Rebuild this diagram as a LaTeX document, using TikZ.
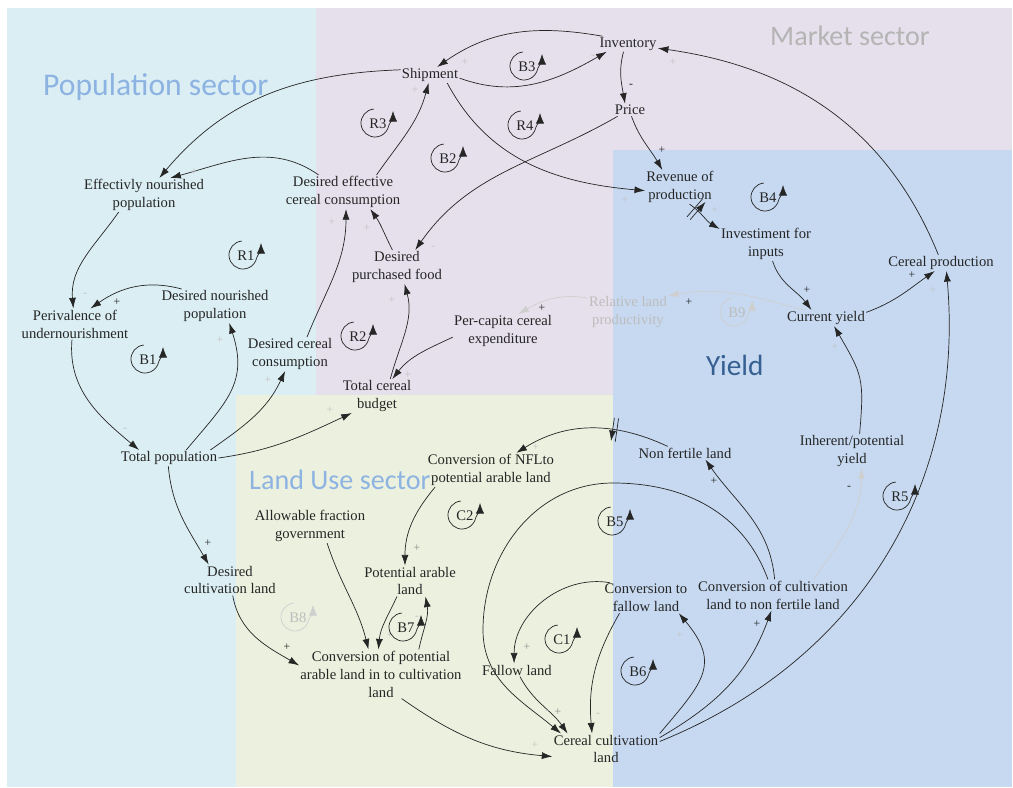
\documentclass[tikz,border=0pt]{standalone}
\usepackage{fontspec}
\setmainfont{Liberation Serif}
\newfontfamily\titlefont{Carlito}
\usetikzlibrary{arrows.meta,decorations.markings}
\definecolor{popbg}{HTML}{DAEEF3}
\definecolor{mktbg}{HTML}{E5E0EC}
\definecolor{landbg}{HTML}{EBF1DE}
\definecolor{yieldbg}{HTML}{C6D9F1}
\definecolor{ttlblue}{HTML}{8DB3E2}
\definecolor{ttlgray}{HTML}{B4B4B4}
\definecolor{ttldark}{HTML}{376092}
\definecolor{ink}{HTML}{262626}
\definecolor{midgray}{HTML}{8C8C8C}
\definecolor{faint}{HTML}{C4C4C4}
\definecolor{grayline}{HTML}{CFCFCF}
\definecolor{graytext}{HTML}{BDBDBD}
\begin{document}
\begin{tikzpicture}[x=0.03cm,y=0.03cm,
  var/.style={align=center, inner sep=1pt, text=ink, font=\fontsize{12.5}{15.3}\selectfont},
  cl/.style={draw=ink, line width=0.6pt, -{Latex[length=9pt,width=6pt]}},
  gcl/.style={draw=grayline, line width=0.6pt, -{Latex[length=9pt,width=6pt]}},
  pol/.style={inner sep=0pt, text=ink, font=\fontsize{10}{10}\selectfont},
  loopl/.style={inner sep=0pt, text=ink, font=\fontsize{12.5}{14}\selectfont},
  title/.style={anchor=base west, inner sep=0pt},
  delay/.style={postaction={decorate, decoration={markings, mark=at position #1 with {\draw[ink, line width=0.6pt] (-1.8pt,-10pt)--(-1.8pt,10pt) (1.8pt,-10pt)--(1.8pt,10pt);}}}},
  cld/.pic={\draw[ink, line width=0.6pt, -{Latex[length=9pt,width=7pt]}] (-3,1) ++(95:14) arc (95:335:14) to[out=75,in=-90] (15,13);},
  cldg/.pic={\draw[grayline, line width=0.6pt, -{Latex[length=9pt,width=7pt]}] (-3,1) ++(95:14) arc (95:335:14) to[out=75,in=-90] (15,13);}
]
\useasboundingbox (0,0) rectangle (1013,-787);
\fill[white] (0,0) rectangle (1013,-787);
\fill[popbg] (7,-8) rectangle (316,-787);
\fill[mktbg] (316,-8) rectangle (1012,-395);
\fill[landbg] (236,-395) rectangle (613,-787);
\fill[yieldbg] (613,-150) rectangle (1012,-787);

% sector titles
\node[title, text=ttlblue, font=\titlefont\fontsize{27}{30}\selectfont] (tpop) at (43,-95) {Population sector};
\node[title, text=ttlgray, font=\titlefont\fontsize{24}{28}\selectfont] (tmkt) at (770,-45) {Market sector};
\node[title, text=ttlblue, font=\titlefont\fontsize{24}{28}\selectfont] (tland) at (249,-489) {Land Use sector};
\node[title, text=ttldark, font=\titlefont\fontsize{25}{28}\selectfont] (tyld) at (706,-375) {Yield};

% variables
\node[var] (ship) at (430,-75) {Shipment};
\node[var] (inv) at (628,-44) {Inventory};
\node[var] (price) at (630,-110) {Price};
\node[var] (enp) at (144,-195) {Effectivly nourished\\population};
\node[var] (decc) at (343,-192) {Desired effective\\cereal consumption};
\node[var] (rev) at (680,-187) {Revenue of\\production};
\node[var] (iinp) at (766,-244) {Investiment for\\inputs};
\node[var] (cprod) at (941,-263) {Cereal production};
\node[var] (dpf) at (397,-267) {Desired\\purchased food};
\node[var] (pu) at (75,-324) {Perivalence of\\undernourishment};
\node[var] (dnp) at (215,-306) {Desired nourished\\population};
\node[var] (dcc) at (290,-354) {Desired cereal\\consumption};
\node[var] (pcce) at (503,-331) {Per-capita cereal\\expenditure};
\node[var, text=graytext] (rlp) at (628,-312) {Relative land\\productivity};
\node[var] (cy) at (826,-318) {Current yield};
\node[var] (tcb) at (377,-396) {Total cereal\\budget};
\node[var] (tp) at (169,-458) {Total population};
\node[var] (nflc) at (491,-470) {Conversion of NFLto\\potential arable land};
\node[var] (nfl) at (685,-453) {Non fertile land};
\node[var] (ipy) at (852,-451) {Inherent/potential\\yield};
\node[var] (afg) at (310,-526) {Allowable fraction\\government};
\node[var] (dcl) at (230,-580) {Desired\\cultivation land};
\node[var] (pal) at (410,-581) {Potential arable\\land};
\node[var] (cfl) at (646,-598) {Conversion to\\fallow land};
\node[var] (ccnf) at (773,-595) {Conversion of cultivation\\land to non fertile land};
\node[var] (cpal) at (381,-674) {Conversion of potential\\arable land in to cultivation\\land};
\node[var] (fal) at (517,-670) {Fallow land};
\node[var] (ccl) at (606,-749) {Cereal cultivation\\land};

% market links
\draw[cl] (ship.170) to[out=182,in=50] (enp.48);
\draw[cl] (decc.145) to[out=145,in=15] (enp.33);
\draw[cl] (ship.-6) to[out=-20,in=210] (inv.200);
\draw[cl] (inv.163) to[out=170,in=35] (ship.48);
\draw[cl] (inv.240) to[out=255,in=100] (price.128);
\draw[cl] (ship.-25) to[out=-62,in=175] (rev.186);
\draw[cl] (price.-77) to[out=-70,in=120] (rev.136);
\draw[cl] (price.207) to[out=210,in=55] (dpf.43);
\draw[cl] (decc.27) to[out=55,in=255] (ship.-100);
\draw[cl] (dpf.105) to[out=117,in=-55] (decc.-32);
\draw[cl] (dcc.45) to[out=68,in=-90] (decc.-80);
\draw[cl] (tcb.52) to[out=75,in=-75] (dpf.-66);
\draw[cl] (pcce.187) to[out=205,in=52] (tcb.48);
\draw[cl] (tp.east) to[out=8,in=205] (tcb.214);
% population links
\draw[cl] (tp.11) to[out=35,in=245] (dcc.254);
\draw[cl] (tp.25) to[out=50,in=-72,looseness=1.2] (dnp.-50);
\draw[cl] (pu.259) to[out=-95,in=140] (tp.165);
\draw[cl] (dnp.153) to[out=165,in=35] (pu.45);
\draw[cl] (enp.214) to[out=235,in=95] (pu.96);
\draw[cl] (tp.265) to[out=-85,in=120] (dcl.144);
% land use links
\draw[cl] (dcl.-80) to[out=-80,in=150] (cpal.174);
\draw[cl] (afg.-45) to[out=-72,in=104] (cpal.117);
\draw[cl] (pal.230) to[out=245,in=85] (cpal.96);
\draw[cl] (cpal.33) to[out=78,in=-80] (pal.-45);
\draw[cl] (nflc.197) to[out=230,in=90] (pal.108);
\draw[cl, delay=0.35] (nfl.159) to[out=155,in=32] (nflc.34);
\draw[cl] (ccnf.84) to[out=95,in=-55] (nfl.-18);
\draw[cl] (ccnf.108) to[out=110,in=0] (613,-483) to[out=180,in=90] (483,-630) to[out=-90,in=140] (ccl.161);
\draw[cl] (cfl.157) to[out=170,in=90] (fal.114);
\draw[cl] (fal.294) to[out=-62,in=125] (ccl.158);
\draw[cl] (cfl.210) to[out=240,in=95] (ccl.132);
\draw[cl] (cpal.-50) to[out=-35,in=175] (ccl.188);
\draw[cl] (ccl.16) to[out=50,in=-50,looseness=1.4] (cfl.-25);
\draw[cl] (ccl.12) to[out=30,in=250] (ccnf.264);
% yield links
\draw[cl] (ccl.8) to[out=22,in=-85] (cprod.-56);
\draw[cl] (cprod.108) to[out=112,in=-8] (inv.-8);
\draw[cl] (cy.8) to[out=20,in=215] (cprod.232);
\draw[cl] (iinp.-69) to[out=-72,in=127] (cy.151);
\draw[cl, delay=0.22] (rev.-61) to[out=-35,in=150] (iinp.162);
\draw[cl] (ipy.66) to[out=85,in=-60,looseness=1.3] (cy.-45);
\draw[gcl] (ccnf.21) to[out=55,in=-90] (ipy.-61);
\draw[gcl] (cy.160) to[out=165,in=10] (rlp.22);
\draw[gcl] (rlp.161) to[out=170,in=30] (pcce.48);

% polarity signs
\foreach \n/\x/\y/\t in {1/631/86/-,2/662/150/+,3/117/302/+,4/208/543/+,5/287/647/+,6/714/481/+,7/757/624/+,8/912/275/+,9/807/290/+,10/849/488/-,11/689/302/+,12/542/308/+}
  \node[pol] (s\n) at (\x,-\y) {\t};
\foreach \n/\x/\y/\t in {13/417/548/+,14/527/647/+,15/558/712/+}
  \node[pol, text=midgray] (s\n) at (\x,-\y) {\t};
\foreach \n/\x/\y/\t in {16/415/90/+,17/465/62/+,18/593/57/-,19/673/62/+,20/433/248/-,21/625/200/+,22/715/210/+,23/194/172/+,24/332/222/+,25/367/228/+,26/392/300/+,27/408/375/+,28/220/340/+,29/268/380/+,30/330/410/+,31/125/430/-,32/85/295/-,33/835/347/+,34/933/290/+,35/535/745/+,36/547/712/-,37/598/715/-,38/680/635/+,39/417/618/-,40/390/635/+,41/536/447/+}
  \node[pol, text=faint] (s\n) at (\x,-\y) {\t};

% loop markers
\foreach \n/\x/\y in {R3/378/124,B3/527/67,R4/525/126,B2/448/159,B4/768/198,R1/246/256,B1/148/360,R2/358/337,C2/465/516,B5/615/522,B7/406/628,C1/562/640,B6/638/672,R5/900/497}
{ \node[loopl] (l\n) at (\x,-\y) {\n};
  \pic at (l\n) {cld}; }
\foreach \n/\x/\y in {B9/737/313,B8/298/618}
{ \node[loopl, text=graytext] (l\n) at (\x,-\y) {\n};
  \pic at (l\n) {cldg}; }
\end{tikzpicture}
\end{document}
